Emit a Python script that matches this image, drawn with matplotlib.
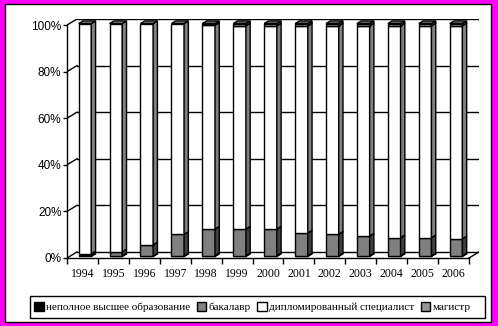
import matplotlib
matplotlib.use("Agg")
import matplotlib.pyplot as plt
from matplotlib.patches import Patch, Polygon, Rectangle
from matplotlib.ticker import FixedLocator, FuncFormatter

years = ["1994", "1995", "1996", "1997", "1998", "1999", "2000",
         "2001", "2002", "2003", "2004", "2005", "2006"]
nepolnoe = [1.2, 0.2, 0.2, 0.2, 0.3, 0.3, 0.3, 0.3, 0.3, 0.3, 0.3, 0.3, 0.3]
bakalavr = [0.0, 1.8, 4.8, 9.3, 11.5, 11.5, 11.5, 9.8, 9.3, 8.5, 7.8, 7.8, 7.3]
specialist = [98.8, 98.0, 95.0, 90.5, 87.4, 87.2, 87.2, 88.9, 89.4, 90.2, 90.9, 90.9, 91.4]
magistr = [0.0, 0.0, 0.0, 0.0, 0.8, 1.0, 1.0, 1.0, 1.0, 1.0, 1.0, 1.0, 1.0]

series = [
    ("неполное высшее образование", nepolnoe, "#000000", "#000000", "#000000"),
    ("бакалавр", bakalavr, "#808080", "#404040", "#606060"),
    ("дипломированный специалист", specialist, "#ffffff", "#808080", "#808080"),
    ("магистр", magistr, "#969696", "#4b4b4b", "#707070"),
]

W, H = 498, 326
fig = plt.figure(figsize=(W / 100, H / 100), dpi=100, facecolor="#ff00ff")
fig.patches.append(Rectangle((5 / W, 4 / H), 486 / W, 318 / H, transform=fig.transFigure,
                             facecolor="white", edgecolor="black", linewidth=1, zorder=-2))

# depth of the fake 3d box, in data units
ddx, ddy = 0.323, 2.6
n = len(years)
ax = fig.add_axes([67 / W, (H - 258) / H, (479 - 67) / W, (258 - 19) / H])
ax.set_xlim(0, n + ddx)
ax.set_ylim(0, 100 + ddy)
ax.patch.set_alpha(0)
for s in ("top", "right"):
    ax.spines[s].set_visible(False)
ax.spines["left"].set_bounds(0, 100)
ax.spines["bottom"].set_bounds(0, n)

lw = 1.0
for s in ("left", "bottom"):
    ax.spines[s].set_linewidth(lw)

# back wall, side wall and floor
for v in [0, 20, 40, 60, 80, 100]:
    ax.plot([ddx, n + ddx], [v + ddy, v + ddy], color="black", lw=lw, zorder=1)
    ax.plot([0, ddx], [v, v + ddy], color="black", lw=lw, zorder=1)
ax.plot([n, n + ddx], [0, ddy], color="black", lw=lw, zorder=1)

# bars
f0, f1, w = 0.25, 0.68, 0.41
sx, sy = (f1 - f0) * ddx, (f1 - f0) * ddy
for i in range(n):
    left = i + 0.5 - w / 2 + f0 * ddx
    base = f0 * ddy
    top_color = None
    for label, vals, face, side, cap in series:
        h = vals[i]
        if h <= 0:
            continue
        ax.bar(left, h, bottom=base, width=w, align="edge", facecolor=face,
               edgecolor="black", linewidth=lw, zorder=3)
        r = left + w
        ax.add_patch(Polygon([(r, base), (r, base + h), (r + sx, base + h + sy), (r + sx, base + sy)],
                             closed=True, facecolor=side, edgecolor="black", linewidth=lw, zorder=3))
        base += h
        top_color = cap
    ax.add_patch(Polygon([(left, base), (left + w, base), (left + w + sx, base + sy), (left + sx, base + sy)],
                         closed=True, facecolor=top_color, edgecolor="black", linewidth=lw, zorder=3))

ax.yaxis.set_major_locator(FixedLocator([0, 20, 40, 60, 80, 100]))
ax.yaxis.set_major_formatter(FuncFormatter(lambda v, p: f"{v:.0f}%"))
ax.tick_params(axis="y", direction="out", length=3, width=lw, pad=1,
               labelsize=8.5, labelfontfamily="Liberation Sans")
ax.set_xticks([i + 0.5 for i in range(n)])
ax.set_xticklabels(years, fontfamily="Liberation Serif", fontsize=8.5)
ax.set_xticks(range(n + 1), minor=True)
ax.tick_params(axis="x", which="major", length=0, pad=7)
ax.tick_params(axis="x", which="minor", direction="out", length=4, width=lw)

# legend
fig.patches.append(Rectangle((30 / W, (H - 318) / H), 455 / W, 22 / H, transform=fig.transFigure,
                             facecolor="white", edgecolor="black", linewidth=1, zorder=-1))
handles = [Patch(facecolor=c, edgecolor="black", linewidth=lw, label=lab) for lab, _, c, _, _ in series]
fig.legend(handles=handles, loc="center left", bbox_to_anchor=(30 / W, (H - 307) / H), ncol=4,
           frameon=False, prop={"family": "Liberation Serif", "size": 8},
           handlelength=0.85, handleheight=0.85, handletextpad=0.2, columnspacing=0.6, borderaxespad=0)

fig.savefig("out.png", dpi=100, facecolor=fig.get_facecolor())
